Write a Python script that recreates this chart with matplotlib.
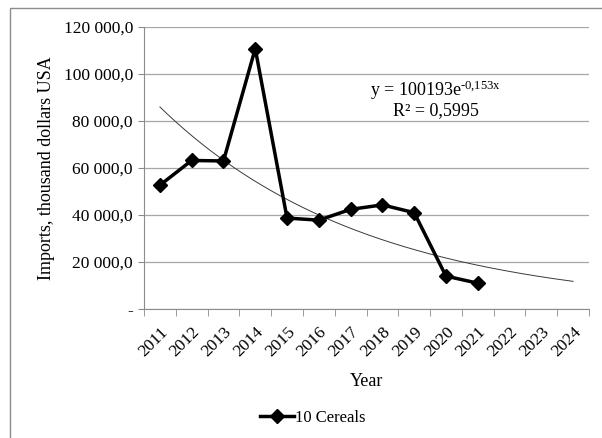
import numpy as np
import matplotlib.pyplot as plt
from matplotlib.ticker import FuncFormatter
from matplotlib.patches import Rectangle

plt.rcParams['font.family'] = ['Liberation Serif', 'DejaVu Serif']
plt.rcParams['mathtext.fontset'] = 'custom'
plt.rcParams['mathtext.rm'] = 'Liberation Serif'
plt.rcParams['mathtext.it'] = 'Liberation Serif'
plt.rcParams['mathtext.default'] = 'regular'

years = ['2011', '2012', '2013', '2014', '2015', '2016', '2017',
         '2018', '2019', '2020', '2021', '2022', '2023', '2024']
imports = [52700, 63200, 63000, 110800, 38700, 37800, 42400,
           44300, 41000, 14000, 11000]
trend_a = 100193
trend_b = -0.153

fig = plt.figure(figsize=(6.02, 4.38), dpi=100)
fig.patches.append(Rectangle((10 / 602, -0.1), 1.2, (430 / 438) + 0.1,
                             transform=fig.transFigure, fill=False,
                             edgecolor='#8c8c8c', linewidth=1))
ax = fig.add_axes([144 / 602, 1 - 309 / 438, 445 / 602, 282 / 438])

x = np.arange(len(imports))
ax.plot(x, imports, color='black', linewidth=2.5, marker='D', markersize=7,
        label='10 Cereals', zorder=3)

# exponential trend line over all 14 categories
xt = np.linspace(0, len(years) - 1, 200)
ax.plot(xt, trend_a * np.exp(trend_b * (xt + 1)), color='#3a3a3a',
        linewidth=0.7, zorder=2)

ax.set_xlim(-0.5, len(years) - 0.5)
ax.set_ylim(0, 120000)
ax.set_yticks(np.arange(0, 120001, 20000))


def fmt(v, pos):
    if v == 0:
        return '-'
    return '{:,.1f}'.format(v).replace(',', ' ').replace('.', ',')


ax.yaxis.set_major_formatter(FuncFormatter(fmt))
ax.set_xticks(np.arange(len(years)))
ax.set_xticklabels(years, rotation=45, ha='right', rotation_mode='anchor')
ax.set_xticks(np.arange(-0.5, len(years), 1), minor=True)
ax.tick_params(axis='x', which='major', length=0, pad=11, labelsize=12.5)
ax.tick_params(axis='x', which='minor', length=5, color='#8c8c8c')
ax.tick_params(axis='y', length=4, color='#8c8c8c', labelsize=12.5, pad=4)

ax.grid(axis='y', color='#a6a6a6', linewidth=0.9)
ax.set_axisbelow(True)
for s in ['top', 'right']:
    ax.spines[s].set_visible(False)
for s in ['left', 'bottom']:
    ax.spines[s].set_color('#8c8c8c')

ax.set_ylabel('Imports, thousand dollars USA', fontsize=13, labelpad=6)
ax.set_xlabel('Year', fontsize=13, labelpad=9)

ax.text(0.655, 0.745, 'y = 100193e$^{\u20100{,}153x}$\nR\u00b2 = 0,5995',
        transform=ax.transAxes, ha='center', va='center', fontsize=13,
        linespacing=1.05)

fig.legend(loc='center', bbox_to_anchor=(0.52, 1 - 418 / 438), frameon=False,
           fontsize=12, handlelength=2, handletextpad=0.1)

fig.savefig('out.png', dpi=100)
